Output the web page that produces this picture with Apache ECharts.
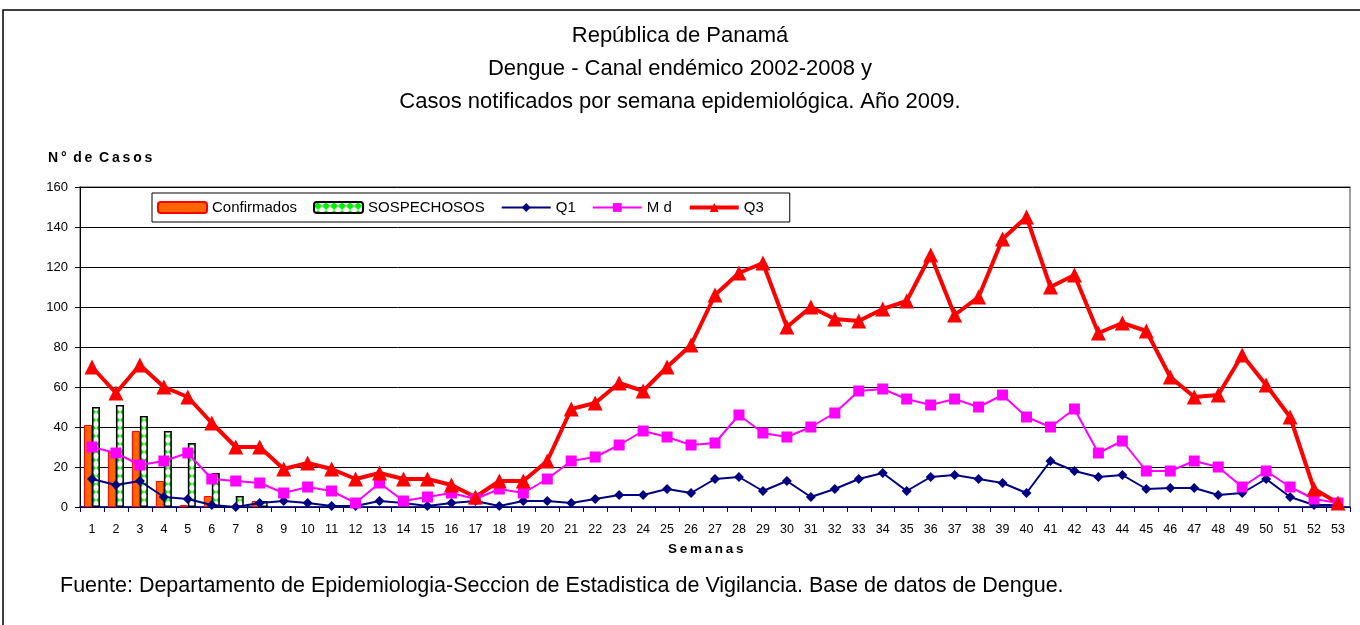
<!DOCTYPE html>
<html>
<head>
<meta charset="utf-8">
<script src="https://cdn.jsdelivr.net/npm/echarts@6/dist/echarts.min.js"></script>
<style>
  html, body { margin: 0; padding: 0; background: #fff; }
  #chart { width: 1360px; height: 625px; }
</style>
</head>
<body>
<div id="chart"></div>
<script>
var weeks = ['1','2','3','4','5','6','7','8','9','10','11','12','13','14','15','16','17','18','19','20',
  '21','22','23','24','25','26','27','28','29','30','31','32','33','34','35','36','37','38','39','40',
  '41','42','43','44','45','46','47','48','49','50','51','52','53'];

var confirmados = [41, 28, 38, 13, 1, 5.5, 0.5, 3];
var sospechosos = [50, 51, 45.5, 38, 32, 17, 5.5, 3];

var q1 = [14, 11, 13, 5, 4, 1, 0, 2, 3, 2, 0.5, 0.5, 3, 2, 0.5, 2, 3, 0.5, 3, 3,
  2, 4, 6, 6, 9, 7, 14, 15, 8, 13, 5, 9, 14, 17, 8, 15, 16, 14, 12, 7,
  23, 18, 15, 16, 9, 9.5, 9.5, 6, 7, 14, 5, 1, 1];
var md = [30, 27, 21, 23, 27, 14, 13, 12, 7, 10, 8, 2, 12, 3, 5, 7, 4, 9, 7, 14,
  23, 25, 31, 38, 35, 31, 32, 46, 37, 35, 40, 47, 58, 59, 54, 51, 54, 50, 56, 45,
  40, 49, 27, 33, 18, 18, 23, 20, 10, 18, 10, 4, 2];
var q3 = [70, 57, 71, 60, 55, 42, 30, 30, 19, 22, 19, 14, 17, 14, 14, 11, 5, 13, 13, 23,
  49, 52, 62, 58, 70, 81, 106, 117, 122, 90, 100, 94, 93, 99, 103, 126, 96, 105, 134, 145,
  110, 116, 87, 92, 88, 65, 55, 56, 76, 61, 45, 9, 2];

var font = '"Liberation Sans", Arial, sans-serif';
var ts = '\u2009'; // thin space, for the spaced-out bold labels

// green/white pattern for suspected cases
var pat = document.createElement('canvas');
pat.width = 8; pat.height = 8;
var pc = pat.getContext('2d');
pc.fillStyle = '#ffffff';
pc.fillRect(0, 0, 8, 8);
pc.fillStyle = '#00ee00';
pc.beginPath();
pc.moveTo(0, 4); pc.lineTo(4, 0); pc.lineTo(8, 4); pc.lineTo(4, 8); pc.closePath();
pc.fill();

function titleStyle(size, bold) {
  return { fontSize: size, fontWeight: bold ? 'bold' : 'normal', color: '#000', fontFamily: font };
}

var chart = echarts.init(document.getElementById('chart'), null, { renderer: 'canvas' });
chart.setOption({
  animation: false,
  backgroundColor: '#fff',
  textStyle: { fontFamily: font },
  graphic: [{
    type: 'rect',
    shape: { x: 3, y: 10, width: 1400, height: 700 },
    style: { fill: 'none', stroke: '#000', lineWidth: 1.5 },
    z: -1
  }],
  title: [
    { text: 'República de Panamá', left: 'center', top: 25, padding: 0, textStyle: titleStyle(22) },
    { text: 'Dengue - Canal endémico 2002-2008 y', left: 'center', top: 58, padding: 0, textStyle: titleStyle(22) },
    { text: 'Casos notificados por semana epidemiológica. Año 2009.', left: 'center', top: 91, padding: 0, textStyle: titleStyle(22) },
    { text: ['N°', 'de', 'Casos'].map(function (w) { return w.split('').join(ts); }).join(' ' + ts),
      left: 48, top: 151, padding: 0, textStyle: titleStyle(14, true) },
    { text: 'Semanas'.split('').join(ts), left: 668, top: 542, padding: 0, textStyle: titleStyle(13.5, true) },
    { text: 'Fuente: Departamento de Epidemiologia-Seccion de Estadistica de Vigilancia. Base de datos de Dengue.',
      left: 60, top: 575, padding: 0, textStyle: titleStyle(21.5) }
  ],
  legend: {
    left: 152, top: 193,
    padding: [7, 26, 7, 5],
    itemGap: 16,
    itemWidth: 49, itemHeight: 11,
    backgroundColor: '#fff',
    borderColor: '#000', borderWidth: 1,
    textStyle: { fontSize: 15, color: '#000', fontFamily: font },
    data: [
      'Confirmados', 'SOSPECHOSOS',
      { name: 'Q1', lineStyle: { width: 2 } },
      { name: 'M d', lineStyle: { width: 2 } },
      { name: 'Q3', lineStyle: { width: 4 } }
    ]
  },
  grid: {
    left: 80, right: 10, top: 187, bottom: 118,
    show: true, borderColor: '#808080', borderWidth: 1.5, backgroundColor: '#fff'
  },
  xAxis: {
    type: 'category',
    data: weeks,
    boundaryGap: true,
    axisLine: { lineStyle: { color: '#000080', width: 1.5 } },
    axisTick: { show: true, alignWithLabel: false, length: 5, lineStyle: { color: '#000080' } },
    axisLabel: { interval: 0, fontSize: 12.5, color: '#000', margin: 16, fontFamily: font },
    splitLine: { show: false }
  },
  yAxis: {
    type: 'value',
    min: 0, max: 160, interval: 20,
    axisLine: { show: true, lineStyle: { color: '#000', width: 1 } },
    axisTick: { show: true, length: 5, lineStyle: { color: '#000' } },
    axisLabel: { fontSize: 13, color: '#000', margin: 12, fontFamily: font },
    splitLine: { lineStyle: { color: '#000', width: 1 } }
  },
  series: [
    {
      name: 'Confirmados', type: 'bar', data: confirmados,
      barWidth: 8, barGap: '0%',
      itemStyle: { color: '#ff6600', borderColor: '#ff0000', borderWidth: 1 }
    },
    {
      name: 'SOSPECHOSOS', type: 'bar', data: sospechosos,
      barWidth: 8,
      itemStyle: { color: { image: pat, repeat: 'repeat' }, borderColor: '#000', borderWidth: 1.5 }
    },
    {
      name: 'Q1', type: 'line', data: q1,
      symbol: 'diamond', symbolSize: 10,
      lineStyle: { color: '#000080', width: 2 },
      itemStyle: { color: '#000080' }
    },
    {
      name: 'M d', type: 'line', data: md,
      symbol: 'rect', symbolSize: 11,
      lineStyle: { color: '#ff00ff', width: 2 },
      itemStyle: { color: '#ff00ff' }
    },
    {
      name: 'Q3', type: 'line', data: q3,
      symbol: 'triangle', symbolSize: 15,
      lineStyle: { color: '#ff0000', width: 4 },
      itemStyle: { color: '#ff0000' }
    }
  ]
});
</script>
</body>
</html>
